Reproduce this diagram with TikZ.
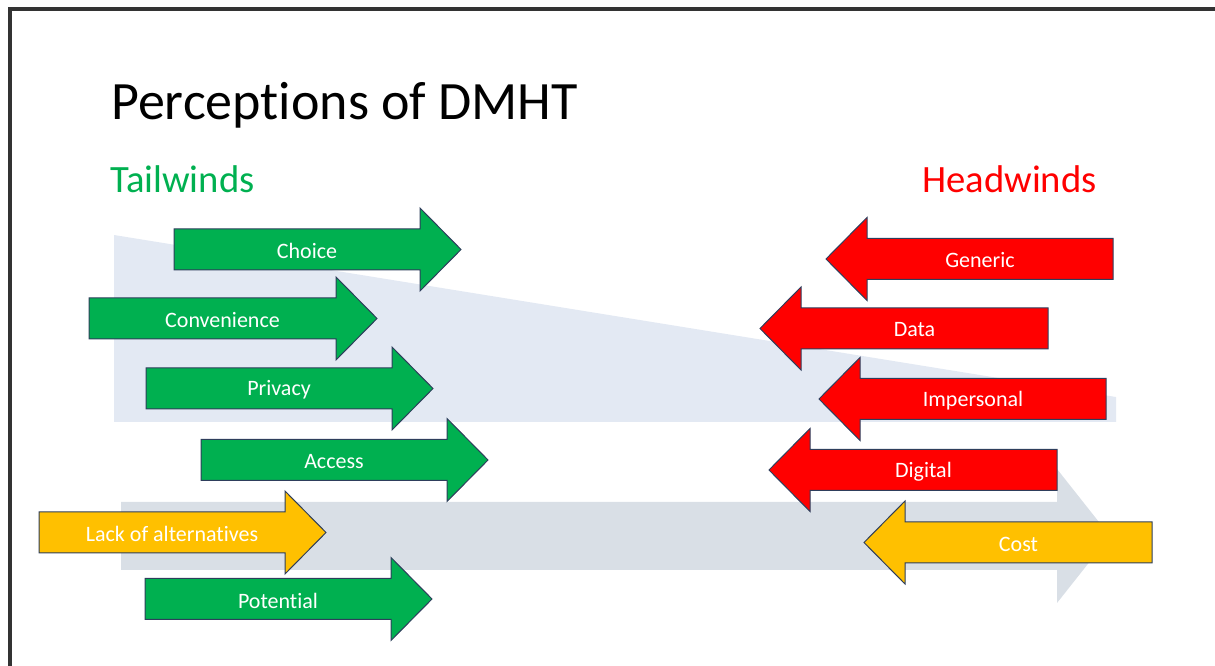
\documentclass[tikz,border=0pt]{standalone}
\usepackage{fontspec}
\setmainfont{Carlito}[Ligatures=NoCommon]
\usepackage{xcolor}
\definecolor{tailgreen}{HTML}{00B050}
\definecolor{headred}{HTML}{FF0000}
\definecolor{mixgold}{HTML}{FFC000}
\definecolor{edgeblue}{HTML}{2E3E5C}
\definecolor{wedgeblue}{HTML}{E3E9F3}
\definecolor{trackgrey}{HTML}{D9DFE6}

% right-pointing wind: name, left x, centre y, shaft length, colour, text
\newcommand{\windright}[6]{%
  \filldraw[wind, fill=#5] (#2,{#3-20.5}) -- ({#2+#4},{#3-20.5}) -- ({#2+#4},{#3-41.5})
    -- ({#2+#4+41},#3) -- ({#2+#4},{#3+41.5}) -- ({#2+#4},{#3+20.5}) -- (#2,{#3+20.5}) -- cycle;
  \node[windtext] (#1) at ({#2+(#4+20)/2},{#3+1.5}) {#6};}
% left-pointing wind: name, tip x, centre y, right x, colour, text
\newcommand{\windleft}[6]{%
  \filldraw[wind, fill=#5] (#4,{#3-20.5}) -- ({#2+41},{#3-20.5}) -- ({#2+41},{#3-41.5})
    -- (#2,#3) -- ({#2+41},{#3+41.5}) -- ({#2+41},{#3+20.5}) -- (#4,{#3+20.5}) -- cycle;
  \node[windtext] (#1) at ({(#2+21+#4)/2},{#3+1.5}) {#6};}

\begin{document}
\begin{tikzpicture}[
  x=0.75pt, y=-0.75pt,
  wind/.style={draw=edgeblue, line width=0.75pt, line join=miter},
  windtext/.style={text=white, font=\fontsize{16.5}{19}\selectfont, inner sep=0pt},
  heading/.style={anchor=base west, inner sep=0pt, font=\fontsize{29}{34}\selectfont}
]
\useasboundingbox (0,0) rectangle (1215,666);

% slide frame
\draw[line width=2.3pt, black!80, line cap=rect] (10,666) -- (10,9) -- (1215,9);

% background shapes
\fill[wedgeblue] (114,235) -- (1116,397) -- (1116,422) -- (114,422) -- cycle;
\fill[trackgrey] (121,502) -- (1057,502) -- (1057,469) -- (1110,536)
  -- (1057,603) -- (1057,570) -- (121,570) -- cycle;

% titles
\node[anchor=base west, inner sep=0pt, font=\fontsize{40.5}{48}\selectfont] (title) at (111,120) {Perceptions of DMHT};
\node[heading, text=tailgreen] (tail) at (110,193) {Tailwinds};
\node[heading, text=headred] (head) at (922,193) {Headwinds};

% tailwinds
\windright{choice}{174}{249.5}{246}{tailgreen}{Choice}
\windright{convenience}{89}{318.5}{247}{tailgreen}{Convenience}
\windright{privacy}{146}{388.5}{246}{tailgreen}{Privacy}
\windright{access}{201}{460}{246}{tailgreen}{Access}
\windright{lack}{39}{532.5}{246}{mixgold}{Lack of alternatives}
\windright{potential}{145}{599}{246}{tailgreen}{Potential}

% headwinds
\windleft{generic}{826}{259}{1113}{headred}{Generic}
\windleft{data}{760}{328.5}{1048}{headred}{Data}
\windleft{impersonal}{819}{399}{1106}{headred}{Impersonal}
\windleft{digital}{769}{470}{1057}{headred}{Digital}
\windleft{cost}{864}{542.5}{1152}{mixgold}{Cost}
\end{tikzpicture}
\end{document}
